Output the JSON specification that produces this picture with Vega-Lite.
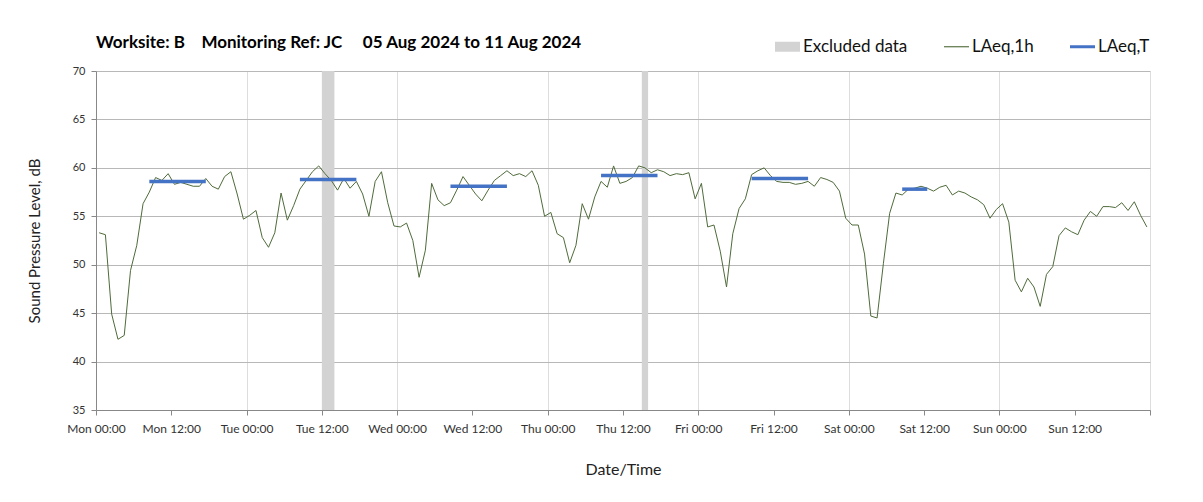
{
  "$schema": "https://vega.github.io/schema/vega-lite/v6.json",
  "width": 1054,
  "height": 339,
  "autosize": {"type": "none"},
  "padding": {"left": 96, "top": 71, "right": 53, "bottom": 92},
  "background": "white",
  "title": {
    "text": "Worksite: B\u00a0\u00a0\u00a0\u00a0Monitoring Ref: JC\u00a0\u00a0\u00a0\u00a0\u00a005 Aug 2024 to 11 Aug 2024",
    "anchor": "start",
    "frame": "group",
    "font": "Lato",
    "fontSize": 17,
    "fontWeight": "bold",
    "color": "#000000",
    "offset": 0,
    "dy": 18
  },
  "config": {
    "font": "Lato",
    "view": {"stroke": null},
    "axis": {"labelFont": "Lato", "titleFont": "Lato"},
    "legend": {"labelFont": "Lato"}
  },
  "datasets": {
    "excluded": [
      {"s": "2024-08-06T12:00", "e": "2024-08-06T14:00"},
      {"s": "2024-08-08T15:00", "e": "2024-08-08T16:00"}
    ],
    "laeqT": [
      {"s": "2024-08-05T08:30", "e": "2024-08-05T17:30", "v": 58.6},
      {"s": "2024-08-06T08:30", "e": "2024-08-06T17:30", "v": 58.8},
      {"s": "2024-08-07T08:30", "e": "2024-08-07T17:30", "v": 58.1},
      {"s": "2024-08-08T08:30", "e": "2024-08-08T17:30", "v": 59.2},
      {"s": "2024-08-09T08:30", "e": "2024-08-09T17:30", "v": 58.9},
      {"s": "2024-08-10T08:30", "e": "2024-08-10T12:30", "v": 57.8}
    ],
    "hourly": [
      {"t": "2024-08-05T00:30", "v": 53.3}, {"t": "2024-08-05T01:30", "v": 53.1}, {"t": "2024-08-05T02:30", "v": 44.9}, {"t": "2024-08-05T03:30", "v": 42.3},
      {"t": "2024-08-05T04:30", "v": 42.7}, {"t": "2024-08-05T05:30", "v": 49.4}, {"t": "2024-08-05T06:30", "v": 52.0}, {"t": "2024-08-05T07:30", "v": 56.3},
      {"t": "2024-08-05T08:30", "v": 57.5}, {"t": "2024-08-05T09:30", "v": 59.0}, {"t": "2024-08-05T10:30", "v": 58.7}, {"t": "2024-08-05T11:30", "v": 59.4},
      {"t": "2024-08-05T12:30", "v": 58.3}, {"t": "2024-08-05T13:30", "v": 58.5}, {"t": "2024-08-05T14:30", "v": 58.3}, {"t": "2024-08-05T15:30", "v": 58.1},
      {"t": "2024-08-05T16:30", "v": 58.1}, {"t": "2024-08-05T17:30", "v": 58.9}, {"t": "2024-08-05T18:30", "v": 58.1}, {"t": "2024-08-05T19:30", "v": 57.8},
      {"t": "2024-08-05T20:30", "v": 59.1}, {"t": "2024-08-05T21:30", "v": 59.6}, {"t": "2024-08-05T22:30", "v": 57.3}, {"t": "2024-08-05T23:30", "v": 54.7},
      {"t": "2024-08-06T00:30", "v": 55.1}, {"t": "2024-08-06T01:30", "v": 55.6}, {"t": "2024-08-06T02:30", "v": 52.8}, {"t": "2024-08-06T03:30", "v": 51.8},
      {"t": "2024-08-06T04:30", "v": 53.3}, {"t": "2024-08-06T05:30", "v": 57.4}, {"t": "2024-08-06T06:30", "v": 54.6}, {"t": "2024-08-06T07:30", "v": 56.1},
      {"t": "2024-08-06T08:30", "v": 57.8}, {"t": "2024-08-06T09:30", "v": 58.7}, {"t": "2024-08-06T10:30", "v": 59.6}, {"t": "2024-08-06T11:30", "v": 60.2},
      {"t": "2024-08-06T12:30", "v": 59.4}, {"t": "2024-08-06T13:30", "v": 58.7}, {"t": "2024-08-06T14:30", "v": 57.7}, {"t": "2024-08-06T15:30", "v": 58.9},
      {"t": "2024-08-06T16:30", "v": 57.9}, {"t": "2024-08-06T17:30", "v": 58.6}, {"t": "2024-08-06T18:30", "v": 57.3}, {"t": "2024-08-06T19:30", "v": 55.0},
      {"t": "2024-08-06T20:30", "v": 58.6}, {"t": "2024-08-06T21:30", "v": 59.6}, {"t": "2024-08-06T22:30", "v": 56.4}, {"t": "2024-08-06T23:30", "v": 54.0},
      {"t": "2024-08-07T00:30", "v": 53.9}, {"t": "2024-08-07T01:30", "v": 54.3}, {"t": "2024-08-07T02:30", "v": 52.5}, {"t": "2024-08-07T03:30", "v": 48.7},
      {"t": "2024-08-07T04:30", "v": 51.5}, {"t": "2024-08-07T05:30", "v": 58.4}, {"t": "2024-08-07T06:30", "v": 56.7}, {"t": "2024-08-07T07:30", "v": 56.1},
      {"t": "2024-08-07T08:30", "v": 56.4}, {"t": "2024-08-07T09:30", "v": 57.7}, {"t": "2024-08-07T10:30", "v": 59.1}, {"t": "2024-08-07T11:30", "v": 58.2},
      {"t": "2024-08-07T12:30", "v": 57.3}, {"t": "2024-08-07T13:30", "v": 56.6}, {"t": "2024-08-07T14:30", "v": 57.7}, {"t": "2024-08-07T15:30", "v": 58.7},
      {"t": "2024-08-07T16:30", "v": 59.2}, {"t": "2024-08-07T17:30", "v": 59.7}, {"t": "2024-08-07T18:30", "v": 59.2}, {"t": "2024-08-07T19:30", "v": 59.4},
      {"t": "2024-08-07T20:30", "v": 59.1}, {"t": "2024-08-07T21:30", "v": 59.7}, {"t": "2024-08-07T22:30", "v": 58.2}, {"t": "2024-08-07T23:30", "v": 55.0},
      {"t": "2024-08-08T00:30", "v": 55.4}, {"t": "2024-08-08T01:30", "v": 53.2}, {"t": "2024-08-08T02:30", "v": 52.8}, {"t": "2024-08-08T03:30", "v": 50.2},
      {"t": "2024-08-08T04:30", "v": 52.0}, {"t": "2024-08-08T05:30", "v": 56.3}, {"t": "2024-08-08T06:30", "v": 54.7}, {"t": "2024-08-08T07:30", "v": 57.0},
      {"t": "2024-08-08T08:30", "v": 58.6}, {"t": "2024-08-08T09:30", "v": 58.0}, {"t": "2024-08-08T10:30", "v": 60.2}, {"t": "2024-08-08T11:30", "v": 58.4},
      {"t": "2024-08-08T12:30", "v": 58.6}, {"t": "2024-08-08T13:30", "v": 59.0}, {"t": "2024-08-08T14:30", "v": 60.2}, {"t": "2024-08-08T15:30", "v": 60.0},
      {"t": "2024-08-08T16:30", "v": 59.5}, {"t": "2024-08-08T17:30", "v": 59.8}, {"t": "2024-08-08T18:30", "v": 59.6}, {"t": "2024-08-08T19:30", "v": 59.2},
      {"t": "2024-08-08T20:30", "v": 59.4}, {"t": "2024-08-08T21:30", "v": 59.3}, {"t": "2024-08-08T22:30", "v": 59.5}, {"t": "2024-08-08T23:30", "v": 56.8},
      {"t": "2024-08-09T00:30", "v": 58.4}, {"t": "2024-08-09T01:30", "v": 53.9}, {"t": "2024-08-09T02:30", "v": 54.1}, {"t": "2024-08-09T03:30", "v": 51.4},
      {"t": "2024-08-09T04:30", "v": 47.7}, {"t": "2024-08-09T05:30", "v": 53.2}, {"t": "2024-08-09T06:30", "v": 55.8}, {"t": "2024-08-09T07:30", "v": 56.8},
      {"t": "2024-08-09T08:30", "v": 59.3}, {"t": "2024-08-09T09:30", "v": 59.7}, {"t": "2024-08-09T10:30", "v": 60.0}, {"t": "2024-08-09T11:30", "v": 59.2},
      {"t": "2024-08-09T12:30", "v": 58.6}, {"t": "2024-08-09T13:30", "v": 58.5}, {"t": "2024-08-09T14:30", "v": 58.5}, {"t": "2024-08-09T15:30", "v": 58.3},
      {"t": "2024-08-09T16:30", "v": 58.4}, {"t": "2024-08-09T17:30", "v": 58.6}, {"t": "2024-08-09T18:30", "v": 58.1}, {"t": "2024-08-09T19:30", "v": 59.0},
      {"t": "2024-08-09T20:30", "v": 58.8}, {"t": "2024-08-09T21:30", "v": 58.5}, {"t": "2024-08-09T22:30", "v": 57.6}, {"t": "2024-08-09T23:30", "v": 54.8},
      {"t": "2024-08-10T00:30", "v": 54.1}, {"t": "2024-08-10T01:30", "v": 54.1}, {"t": "2024-08-10T02:30", "v": 51.1}, {"t": "2024-08-10T03:30", "v": 44.7},
      {"t": "2024-08-10T04:30", "v": 44.5}, {"t": "2024-08-10T05:30", "v": 50.1}, {"t": "2024-08-10T06:30", "v": 55.3}, {"t": "2024-08-10T07:30", "v": 57.4},
      {"t": "2024-08-10T08:30", "v": 57.2}, {"t": "2024-08-10T09:30", "v": 57.8}, {"t": "2024-08-10T10:30", "v": 57.9}, {"t": "2024-08-10T11:30", "v": 58.1},
      {"t": "2024-08-10T12:30", "v": 57.9}, {"t": "2024-08-10T13:30", "v": 57.6}, {"t": "2024-08-10T14:30", "v": 58.0}, {"t": "2024-08-10T15:30", "v": 58.2},
      {"t": "2024-08-10T16:30", "v": 57.2}, {"t": "2024-08-10T17:30", "v": 57.6}, {"t": "2024-08-10T18:30", "v": 57.4}, {"t": "2024-08-10T19:30", "v": 57.0},
      {"t": "2024-08-10T20:30", "v": 56.7}, {"t": "2024-08-10T21:30", "v": 56.2}, {"t": "2024-08-10T22:30", "v": 54.8}, {"t": "2024-08-10T23:30", "v": 55.7},
      {"t": "2024-08-11T00:30", "v": 56.3}, {"t": "2024-08-11T01:30", "v": 54.4}, {"t": "2024-08-11T02:30", "v": 48.4}, {"t": "2024-08-11T03:30", "v": 47.2},
      {"t": "2024-08-11T04:30", "v": 48.6}, {"t": "2024-08-11T05:30", "v": 47.7}, {"t": "2024-08-11T06:30", "v": 45.7}, {"t": "2024-08-11T07:30", "v": 49.0},
      {"t": "2024-08-11T08:30", "v": 49.8}, {"t": "2024-08-11T09:30", "v": 53.0}, {"t": "2024-08-11T10:30", "v": 53.8}, {"t": "2024-08-11T11:30", "v": 53.4},
      {"t": "2024-08-11T12:30", "v": 53.1}, {"t": "2024-08-11T13:30", "v": 54.6}, {"t": "2024-08-11T14:30", "v": 55.5}, {"t": "2024-08-11T15:30", "v": 55.0},
      {"t": "2024-08-11T16:30", "v": 56.0}, {"t": "2024-08-11T17:30", "v": 56.0}, {"t": "2024-08-11T18:30", "v": 55.9}, {"t": "2024-08-11T19:30", "v": 56.4},
      {"t": "2024-08-11T20:30", "v": 55.6}, {"t": "2024-08-11T21:30", "v": 56.5}, {"t": "2024-08-11T22:30", "v": 55.1}, {"t": "2024-08-11T23:30", "v": 53.9}
    ]
  },
  "layer": [
    {
      "data": {"name": "excluded"},
      "mark": {"type": "rect"},
      "encoding": {
        "x": {
          "field": "s", "type": "temporal",
          "scale": {"domain": [{"year": 2024, "month": 8, "date": 5, "hours": 0}, {"year": 2024, "month": 8, "date": 12, "hours": 0}]},
          "axis": {
            "title": "Date/Time",
            "values": [
              {"year": 2024, "month": 8, "date": 5, "hours": 0}, {"year": 2024, "month": 8, "date": 5, "hours": 12},
              {"year": 2024, "month": 8, "date": 6, "hours": 0}, {"year": 2024, "month": 8, "date": 6, "hours": 12},
              {"year": 2024, "month": 8, "date": 7, "hours": 0}, {"year": 2024, "month": 8, "date": 7, "hours": 12},
              {"year": 2024, "month": 8, "date": 8, "hours": 0}, {"year": 2024, "month": 8, "date": 8, "hours": 12},
              {"year": 2024, "month": 8, "date": 9, "hours": 0}, {"year": 2024, "month": 8, "date": 9, "hours": 12},
              {"year": 2024, "month": 8, "date": 10, "hours": 0}, {"year": 2024, "month": 8, "date": 10, "hours": 12},
              {"year": 2024, "month": 8, "date": 11, "hours": 0}, {"year": 2024, "month": 8, "date": 11, "hours": 12},
              {"year": 2024, "month": 8, "date": 12, "hours": 0}
            ],
            "labelExpr": "date(datum.value) == 12 ? '' : timeFormat(datum.value, '%a %H:%M')",
            "labelOverlap": false,
            "labelFlush": false,
            "labelFontSize": 12,
            "labelColor": "#333333",
            "labelPadding": 8,
            "tickSize": 5,
            "tickColor": "#888888",
            "domainColor": "#888888",
            "grid": true,
            "gridColor": "#dddddd",
            "gridOpacity": {"condition": {"test": "hours(datum.value) == 12", "value": 0}, "value": 1},
            "titleFontSize": 16,
            "titleFontWeight": "normal",
            "titleColor": "#222222",
            "titlePadding": 27
          }
        },
        "x2": {"field": "e"},
        "color": {
          "datum": "Excluded data",
          "scale": {"domain": ["Excluded data", "LAeq,1h", "LAeq,T"], "range": ["#d3d3d3", "#4f6b3a", "#4472c4"]},
          "legend": {
            "orient": "none", "legendX": 679, "legendY": -37, "direction": "horizontal",
            "title": null, "padding": 0, "symbolType": "stroke", "symbolSize": 625,
            "labelFontSize": 17, "labelColor": "#111111", "columnPadding": 36, "labelOffset": 3,
            "encode": {"symbols": {"update": {
              "shape": {"signal": "datum.value === 'Excluded data' ? 'M-1,-0.4H1V0.4H-1Z' : datum.value === 'LAeq,T' ? 'M-1,-0.12H1V0.12H-1Z' : 'M-1,-0.045H1V0.045H-1Z'"},
              "fill": {"scale": "color", "field": "value"},
              "fillOpacity": {"value": 1},
              "opacity": {"value": 1},
              "strokeWidth": {"value": 0}
            }}}
          }
        }
      }
    },
    {
      "data": {"name": "hourly"},
      "mark": {"type": "line", "strokeWidth": 1},
      "encoding": {
        "x": {"field": "t", "type": "temporal", "scale": {"domain": [{"year": 2024, "month": 8, "date": 5, "hours": 0}, {"year": 2024, "month": 8, "date": 12, "hours": 0}]}},
        "y": {
          "field": "v", "type": "quantitative",
          "scale": {"domain": [35, 70], "nice": false, "zero": false},
          "axis": {
            "title": "Sound Pressure Level, dB",
            "values": [35, 40, 45, 50, 55, 60, 65, 70],
            "labelFontSize": 11,
            "labelColor": "#333333",
            "labelPadding": 6,
            "tickSize": 5,
            "tickColor": "#888888",
            "domainColor": "#888888",
            "gridColor": "#b8b8b8",
            "titleFontSize": 15,
            "titleFontWeight": "normal",
            "titleColor": "#222222",
            "titlePadding": 30
          }
        },
        "color": {
          "datum": "LAeq,1h",
          "scale": {"domain": ["Excluded data", "LAeq,1h", "LAeq,T"], "range": ["#d3d3d3", "#4f6b3a", "#4472c4"]}
        }
      }
    },
    {
      "data": {"name": "laeqT"},
      "mark": {"type": "rule", "strokeWidth": 3.5},
      "encoding": {
        "x": {"field": "s", "type": "temporal", "scale": {"domain": [{"year": 2024, "month": 8, "date": 5, "hours": 0}, {"year": 2024, "month": 8, "date": 12, "hours": 0}]}},
        "x2": {"field": "e"},
        "y": {"field": "v", "type": "quantitative", "scale": {"domain": [35, 70], "nice": false, "zero": false}},
        "color": {
          "datum": "LAeq,T",
          "scale": {"domain": ["Excluded data", "LAeq,1h", "LAeq,T"], "range": ["#d3d3d3", "#4f6b3a", "#4472c4"]}
        }
      }
    }
  ]
}
